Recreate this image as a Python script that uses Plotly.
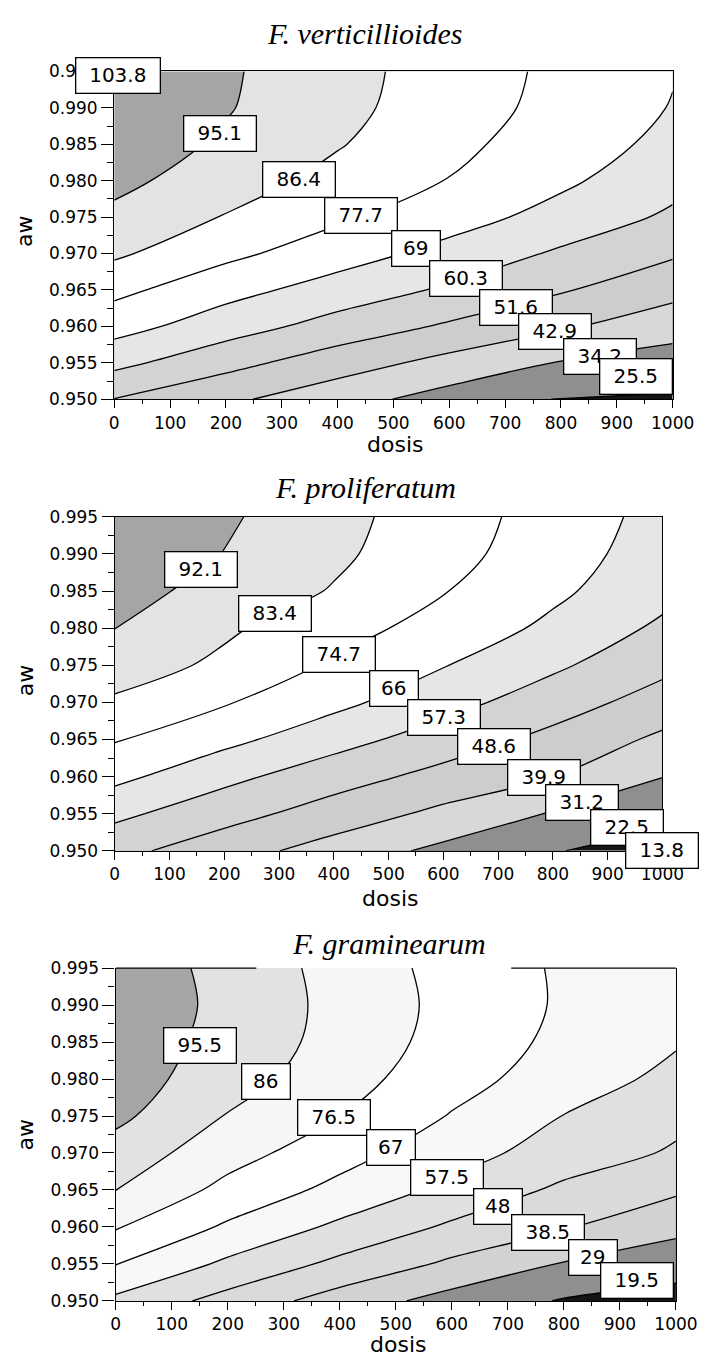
import plotly.graph_objects as go

# ---- grid of the response surfaces -------------------------------------
dosis = [0, 200, 400, 600, 800, 1000]
aw = [0.950, 0.955, 0.960, 0.965, 0.970, 0.975, 0.980, 0.985, 0.990, 0.995]

# rows follow aw (bottom to top), columns follow dosis
z_verticillioides = [
    [51.4, 44.6, 37.6, 30.7, 25.0, 24.5],
    [62.7, 54.4, 47.0, 40.1, 33.7, 30.3],
    [72.4, 64.3, 56.9, 50.4, 44.1, 37.7],
    [80.0, 72.0, 65.3, 59.0, 52.4, 45.8],
    [87.8, 79.8, 72.9, 66.1, 59.0, 52.7],
    [93.1, 85.9, 79.1, 72.6, 65.9, 58.8],
    [97.4, 90.4, 83.7, 77.4, 70.6, 63.2],
    [100.0, 93.8, 87.0, 79.9, 73.3, 66.7],
    [101.5, 95.7, 88.8, 81.8, 75.0, 68.6],
    [103.0, 96.2, 89.4, 82.4, 75.7, 69.5],
]
z_proliferatum = [
    [51.1, 43.7, 36.2, 29.1, 22.9, 19.5],
    [59.4, 51.8, 44.8, 37.8, 30.5, 24.5],
    [68.3, 59.7, 52.3, 45.9, 40.0, 31.4],
    [75.3, 68.4, 60.6, 53.2, 46.1, 38.2],
    [82.1, 75.4, 68.3, 60.4, 52.7, 44.9],
    [87.8, 81.6, 73.5, 66.4, 58.8, 50.9],
    [92.2, 84.8, 78.1, 71.4, 64.2, 55.7],
    [95.3, 89.1, 82.8, 75.1, 67.7, 60.1],
    [98.0, 91.9, 85.1, 77.7, 70.0, 61.9],
    [99.5, 93.4, 86.1, 78.8, 71.1, 63.2],
]
z_graminearum = [
    [55.4, 44.6, 34.3, 25.4, 18.8, 16.5],
    [67.3, 55.7, 45.7, 36.8, 28.4, 22.8],
    [77.3, 65.6, 55.6, 46.5, 39.3, 31.9],
    [86.1, 73.7, 64.3, 55.0, 46.1, 39.9],
    [91.6, 80.3, 70.7, 61.2, 53.3, 46.8],
    [97.7, 85.5, 76.5, 66.4, 57.3, 50.5],
    [100.3, 90.1, 80.4, 70.6, 62.2, 55.0],
    [101.0, 92.4, 82.6, 72.9, 64.7, 58.3],
    [101.5, 93.3, 83.1, 73.8, 65.8, 59.5],
    [101.0, 92.8, 82.5, 73.2, 65.7, 60.5],
]

# contour levels
levels_verticillioides = [25.5, 34.2, 42.9, 51.6, 60.3, 69.0, 77.7, 86.4, 95.1]
levels_proliferatum = [22.5, 31.2, 39.9, 48.6, 57.3, 66.0, 74.7, 83.4, 92.1]
levels_graminearum = [19.5, 29.0, 38.5, 48.0, 57.5, 67.0, 76.5, 86.0, 95.5]

# level labels (text)
labels_verticillioides = ["103.8", "95.1", "86.4", "77.7", "69", "60.3",
                          "51.6", "42.9", "34.2", "25.5"]
labels_proliferatum = ["92.1", "83.4", "74.7", "66", "57.3", "48.6",
                       "39.9", "31.2", "22.5", "13.8"]
labels_graminearum = ["95.5", "86", "76.5", "67", "57.5", "48",
                      "38.5", "29", "19.5"]

titles = ["F. verticillioides", "F. proliferatum", "F. graminearum"]
x_ticks = [0, 100, 200, 300, 400, 500, 600, 700, 800, 900, 1000]
y_ticks = [0.950, 0.955, 0.960, 0.965, 0.970, 0.975, 0.980, 0.985, 0.990, 0.995]

# ---- placement / styling -------------------------------------------------
W, H = 722, 1370

# plot boxes in pixels: (left, right, top, bottom)
boxes = [(113.5, 693.6, 62.3, 395.0),
         (114.0, 683.0, 514.3, 853.3),
         (115.0, 697.0, 972.3, 1310.0)]

# label box anchors (data units)
label_pos = [
    ([7, 190, 331, 441, 540, 630, 720, 790, 870, 934],
     [0.9945, 0.9865, 0.9802, 0.9752, 0.9707, 0.9666, 0.9626, 0.9593, 0.9558, 0.9531]),
    ([158, 292, 410, 510, 601, 692, 783, 854, 935, 999],
     [0.9879, 0.9820, 0.9765, 0.9719, 0.9680, 0.9640, 0.9599, 0.9565, 0.9532, 0.9501]),
    ([150, 268, 390, 492, 592, 682, 771, 852, 930],
     [0.9845, 0.9796, 0.9748, 0.9707, 0.9667, 0.9628, 0.9592, 0.9559, 0.9527]),
]
title_pos = [(373, 24), (375, 485), (399, 947)]
xlabel_pos = [(405, 441), (400, 902), (408, 1354)]
ylabel_pos = [(20, 225), (21, 681), (21, 1142)]

# band shades from lowest to highest band
shades = [
    ["#151515", "#8f8f8f", "#d8d8d8", "#cdcdcd", "#d3d3d3", "#e6e6e6",
     "#ffffff", "#ffffff", "#e3e3e3", "#a5a5a5"],
    ["#151515", "#8f8f8f", "#d8d8d8", "#cdcdcd", "#d3d3d3", "#e6e6e6",
     "#ffffff", "#ffffff", "#e3e3e3", "#a5a5a5"],
    ["#151515", "#8f8f8f", "#d2d2d2", "#dadada", "#e0e0e0", "#f8f8f8",
     "#ffffff", "#f6f6f6", "#e2e2e2", "#a5a5a5"],
]

surfaces = [z_verticillioides, z_proliferatum, z_graminearum]
levels = [levels_verticillioides, levels_proliferatum, levels_graminearum]
labels = [labels_verticillioides, labels_proliferatum, labels_graminearum]

SANS = "DejaVu Sans"
fig = go.Figure()
annotations = []
shapes = []
layout = dict(width=W, height=H, margin=dict(l=0, r=0, t=0, b=0),
              paper_bgcolor="white", plot_bgcolor="white", showlegend=False)

for i in range(3):
    sfx = "" if i == 0 else str(i + 1)
    xa, ya = "x" + sfx, "y" + sfx
    lv = levels[i]
    step = round(lv[1] - lv[0], 3)
    nc = len(lv)
    cscale = [[k / nc, shades[i][k]] for k in range(nc + 1)]
    fig.add_trace(go.Contour(
        x=dosis, y=aw, z=surfaces[i], xaxis=xa, yaxis=ya,
        autocontour=False,
        contours=dict(start=lv[0], end=lv[-1] + 0.01, size=step,
                      coloring="fill", showlabels=False),
        colorscale=cscale, showscale=False,
        line=dict(color="black", width=1.3, smoothing=1.0),
        hoverinfo="skip",
    ))

    left, right, top, bottom = boxes[i]
    xdom = [left / W, right / W]
    ydom = [1 - bottom / H, 1 - top / H]
    axis_line = dict(showline=True, linecolor="black", linewidth=1.4,
                     showgrid=False, zeroline=False)
    layout["xaxis" + sfx] = dict(
        domain=xdom, anchor=ya, range=[0, 1000],
        tickvals=x_ticks, ticks="outside", ticklen=8, tickwidth=1.2,
        tickcolor="black",
        minor=dict(tickvals=[v + 50 for v in x_ticks[:-1]], ticks="outside",
                   ticklen=4, tickwidth=1.1, tickcolor="black"),
        tickfont=dict(family=SANS, size=17, color="black"),
        mirror=(i != 2), **axis_line)
    layout["yaxis" + sfx] = dict(
        domain=ydom, anchor=xa, range=[0.95, 0.995],
        tickvals=y_ticks, tickformat=".3f", ticks="outside", ticklen=12,
        tickwidth=1.2, tickcolor="black",
        minor=dict(tickvals=[v + 0.0025 for v in y_ticks[:-1]],
                   ticks="outside", ticklen=6, tickwidth=1.1,
                   tickcolor="black"),
        tickfont=dict(family=SANS, size=17, color="black"),
        mirror=True, **axis_line)

    # titles and axis names
    tx, ty = title_pos[i]
    annotations.append(dict(
        text=titles[i], xref="paper", yref="paper", x=tx / W, y=1 - ty / H,
        xanchor="center", yanchor="middle", showarrow=False,
        font=dict(family="Liberation Serif", size=30, style="italic",
                  color="black")))
    lx, ly = xlabel_pos[i]
    annotations.append(dict(
        text="dosis", xref="paper", yref="paper", x=lx / W, y=1 - ly / H,
        xanchor="center", yanchor="middle", showarrow=False,
        font=dict(family=SANS, size=22, color="black")))
    gx, gy = ylabel_pos[i]
    annotations.append(dict(
        text="aw", xref="paper", yref="paper", x=gx / W, y=1 - gy / H,
        xanchor="center", yanchor="middle", showarrow=False, textangle=-90,
        font=dict(family=SANS, size=22, color="black")))

    # boxed level labels
    px, py = label_pos[i]
    for txt, lxv, lyv in zip(labels[i], px, py):
        annotations.append(dict(
            text=txt, xref=xa, yref=ya, x=lxv, y=lyv,
            xanchor="center", yanchor="middle", showarrow=False,
            font=dict(family=SANS, size=20, color="black"),
            bgcolor="white", bordercolor="black", borderwidth=1.3,
            borderpad=4, width=12 * len(txt) + 15, height=26))

# top frame of the last panel is drawn in two pieces
for x0, x1 in [(0, 251), (706, 1000)]:
    shapes.append(dict(type="line", xref="x3", yref="y3 domain",
                       x0=x0, x1=x1, y0=1, y1=1,
                       line=dict(color="black", width=1.4)))

layout["annotations"] = annotations
layout["shapes"] = shapes
fig.update_layout(**layout)
fig.write_html("out.html")
